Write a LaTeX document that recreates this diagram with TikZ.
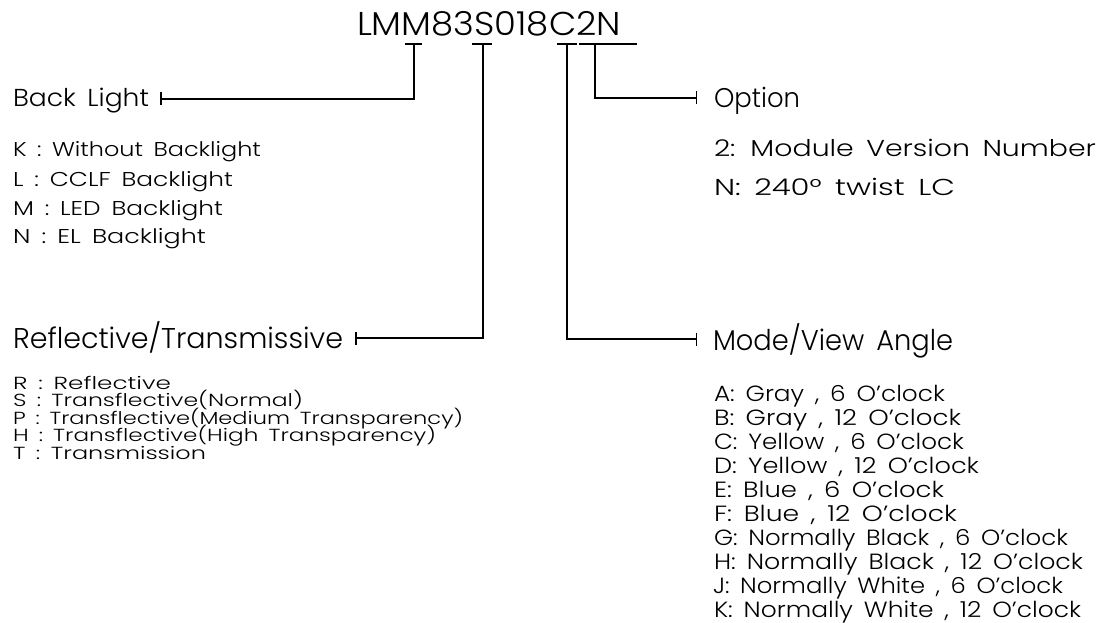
\documentclass[tikz,border=0pt]{standalone}
\usepackage{fontspec}
\usepackage{graphicx}
\setmainfont{Poppins}[UprightFont=* Light, WordSpace={1.6,0,0}]
\usetikzlibrary{arrows.meta}
\newcommand{\ft}[3]{\fontsize{#1}{#1}\selectfont\resizebox{#2pt}{\height}{#3}}
\tikzset{
  lbl/.style={anchor=base west, inner sep=0pt, outer sep=0pt},
  conn/.style={line width=1.5pt, -{Bar[width=13pt,line width=1.5pt]}},
  uline/.style={line width=1.8pt}
}
\begin{document}
\begin{tikzpicture}[x=1pt,y=-1pt]
\useasboundingbox (0,0) rectangle (1103,623);
% title
\node[lbl] (title) at (357,36) {\ft{33}{264}{LMM83S018C2N}};
% underlines
\coordinate (mM) at (414,44);
\coordinate (mS) at (483,44);
\coordinate (mC) at (567,44);
\coordinate (mN) at (595,44);
\draw[uline] (405,44) -- (422,44);
\draw[uline] (472,44) -- (492,44);
\draw[uline] (557,44) -- (577,44);
\draw[uline] (579,44) -- (637,44);
% headings
\node[lbl] (bl) at (13,107) {\ft{24.5}{136}{Back Light}};
\node[lbl] (rt) at (13,348) {\ft{28.6}{330}{Reflective/Transmissive}};
\node[lbl] (op) at (714,108) {\ft{27}{86}{Option}};
\node[lbl] (mv) at (713,350) {\ft{28.6}{240}{Mode/View Angle}};
% connector ends
\coordinate (blend) at (160,99);
\coordinate (rtend) at (355,338);
\coordinate (opend) at (697,98);
\coordinate (mvend) at (697,339);
\draw[conn] (mM) |- (blend);
\draw[conn] (mS) |- (rtend);
\draw[conn] (mN) |- (opend);
\draw[conn] (mC) |- (mvend);
% back light list
\node[lbl] (bk) at (13,157) {\ft{20}{248}{K : Without Backlight}};
\node[lbl] (bll) at (13,186) {\ft{20}{220}{L : CCLF Backlight}};
\node[lbl] (blm) at (13,215) {\ft{20}{210}{M : LED Backlight}};
\node[lbl] (bln) at (13,243) {\ft{20}{193}{N : EL Backlight}};
% reflective list
\node[lbl] (rr) at (13,389) {\ft{17.5}{158}{R : Reflective}};
\node[lbl] (rs) at (13,406.5) {\ft{17.5}{290}{S : Transflective(Normal)}};
\node[lbl] (rp) at (13,424) {\ft{17.5}{450}{P : Transflective(Medium Transparency)}};
\node[lbl] (rh) at (13,441.5) {\ft{17.5}{423}{H : Transflective(High Transparency)}};
\node[lbl] (rtt) at (13,459) {\ft{17.5}{193}{T : Transmission}};
% option list
\node[lbl] (o1) at (714,157) {\ft{23}{382}{2: Module Version Number}};
\node[lbl] (o2) at (714,195) {\ft{23}{241}{N: 240° twist LC}};
% mode list
\node[lbl] (ma) at (714,401) {\ft{22}{231}{A: Gray , 6 O'clock}};
\node[lbl] (mb) at (714,425) {\ft{22}{247}{B: Gray , 12 O'clock}};
\node[lbl] (mc) at (714,449) {\ft{22}{250}{C: Yellow , 6 O'clock}};
\node[lbl] (md) at (714,473) {\ft{22}{265}{D: Yellow , 12 O'clock}};
\node[lbl] (me) at (714,497) {\ft{22}{230}{E: Blue , 6 O'clock}};
\node[lbl] (mf) at (714,521) {\ft{22}{243}{F: Blue , 12 O'clock}};
\node[lbl] (mg) at (714,545) {\ft{22}{354}{G: Normally Black , 6 O'clock}};
\node[lbl] (mh) at (714,569) {\ft{22}{369}{H: Normally Black , 12 O'clock}};
\node[lbl] (mj) at (713,593) {\ft{22}{350}{J: Normally White , 6 O'clock}};
\node[lbl] (mk) at (714,617) {\ft{22}{367}{K: Normally White , 12 O'clock}};
\end{tikzpicture}
\end{document}
